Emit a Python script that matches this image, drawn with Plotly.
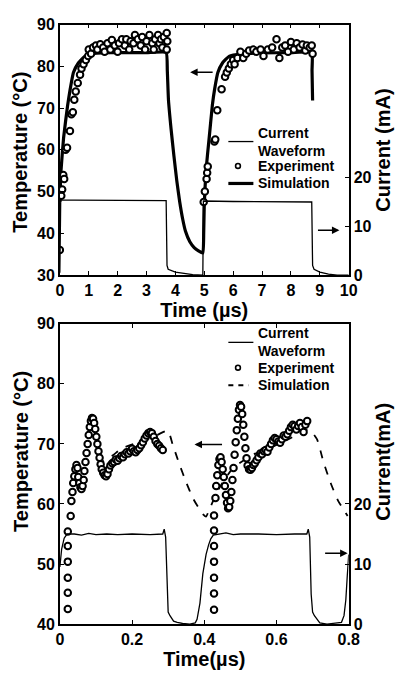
import plotly.graph_objects as go

W, H = 404, 675
FONT = "Liberation Sans"

# ---------------- top panel (0-10 us) ----------------
top_cur_t = [0.0, 0.03, 0.5, 2.0, 3.68, 3.71, 3.75, 4.0, 4.3, 4.6, 4.95, 4.97, 6.0, 8.0, 8.72, 8.75, 8.8, 9.0, 9.3, 9.6, 10.0]
top_cur_mA = [0.5, 15.4, 15.4, 15.3, 15.3, 2.0, 1.2, 0.6, 0.3, 0.1, 0.0, 15.2, 15.1, 15.0, 15.0, 2.0, 1.2, 0.6, 0.2, 0.0, 0.0]

top_sim_t = [0.0, 0.04, 0.13, 0.27, 0.36, 0.47, 0.64, 0.86, 1.19, 1.5, 2.0, 3.0, 3.68, 3.72, 3.76, 3.85, 3.95, 4.05, 4.15,
             4.25, 4.35, 4.5, 4.65, 4.8, 4.95, 4.98, 5.0, 5.06, 5.17, 5.28, 5.36, 5.47, 5.63, 5.86, 6.3, 7.0, 8.0, 8.72,
             8.73, 8.75]
top_sim_T = [47.5, 55.0, 62.9, 70.7, 74.6, 78.5, 80.8, 82.4, 83.1, 83.2, 83.3, 83.3, 83.3, 79.0, 72.0, 65.0, 58.5, 52.5, 47.5,
             43.5, 40.5, 38.0, 36.6, 35.8, 35.3, 40.0, 47.0, 55.0, 62.9, 70.7, 74.6, 78.5, 80.8, 82.4, 83.0, 83.2, 83.3, 83.3,
             79.0, 71.8]

top_exp_t = [0.0, 0.05, 0.08, 0.12, 0.15, 0.2, 0.25, 0.35, 0.4, 0.45, 0.5, 0.55, 0.62, 0.7, 0.75, 0.82, 0.9, 0.98, 1.0,
             1.08, 1.15, 1.25, 1.3, 1.4, 1.5, 1.55, 1.65, 1.75, 1.8, 1.9, 2.0, 2.05, 2.15, 2.25, 2.3, 2.4, 2.45, 2.55,
             2.6, 2.7, 2.8, 2.85, 2.95, 3.0, 3.1, 3.2, 3.25, 3.3, 3.4, 3.45, 3.5, 3.55, 3.6, 3.7, 3.72, 3.7,
             4.98, 5.02, 5.08, 5.1, 5.12, 5.35, 5.38, 5.45, 5.6, 5.72, 5.78, 5.85, 5.92, 6.0, 6.05, 6.15, 6.25, 6.35,
             6.45, 6.55, 6.7, 6.8, 6.95, 7.05, 7.2, 7.35, 7.5, 7.6, 7.7, 7.8, 7.9, 8.0, 8.1, 8.2, 8.3, 8.4, 8.5, 8.55,
             8.65, 8.72, 8.75]
top_exp_T = [36.0, 49.0, 50.5, 54.0, 53.0, 60.0, 60.5, 64.5, 68.5, 69.0, 72.0, 74.0, 76.0, 78.0, 79.5, 80.5, 81.5, 82.5, 84.0,
             83.0, 84.5, 85.0, 84.0, 85.3, 84.5, 83.5, 85.5, 84.0, 86.3, 85.0, 83.5, 85.5, 86.5, 85.0, 86.5, 84.0, 86.0, 85.5,
             87.5, 86.5, 85.0, 87.0, 84.0, 86.0, 87.5, 85.5, 84.0, 86.5, 87.5, 85.5, 86.5, 84.5, 87.0, 88.0, 86.0, 84.0,
             47.5, 50.0, 53.0, 54.5, 56.0, 62.0, 62.5, 69.5, 74.5, 77.5, 78.5, 79.5, 80.5, 81.5, 80.5, 82.0, 83.5, 82.0,
             83.0, 83.8, 84.0, 83.5, 84.0, 82.5, 84.0, 84.5, 86.5, 82.0, 84.5, 85.0, 83.5, 85.8, 84.0, 85.5, 84.5, 85.2, 83.8, 85.0,
             84.5, 85.0, 83.0]

# ---------------- bottom panel (0-0.8 us) ----------------
bot_cur_t = [0.0, 0.005, 0.012, 0.02, 0.04, 0.06, 0.08, 0.1, 0.13, 0.16, 0.2, 0.25, 0.285, 0.289, 0.293, 0.297, 0.3,
             0.305, 0.31, 0.315, 0.325, 0.34, 0.36, 0.375, 0.38, 0.388, 0.396, 0.405, 0.412, 0.418, 0.425, 0.44, 0.46,
             0.48, 0.5, 0.55, 0.6, 0.65, 0.684, 0.688, 0.692, 0.696, 0.7, 0.705, 0.71, 0.715, 0.72, 0.74, 0.76, 0.78,
             0.787, 0.792, 0.796, 0.8]
bot_cur_mA = [9.5, 12.5, 14.3, 15.0, 15.0, 14.8, 15.1, 14.9, 15.0, 14.9, 15.0, 14.9, 15.0, 15.8, 14.5, 5.0, 2.0,
              1.4, 1.0, 0.5, 0.3, 0.1, 0.0, 0.2, 0.8, 3.5, 8.4, 11.6, 13.2, 14.2, 14.8, 15.0, 15.2,
              14.9, 15.0, 15.0, 14.9, 15.0, 15.0, 15.8, 14.5, 5.0, 2.0, 1.4, 1.0, 0.5, 0.2, 0.0, 0.1, 0.3,
              1.4, 4.0, 8.0, 11.6]

bot_sim_t = [0.103, 0.147, 0.17, 0.214, 0.26, 0.299, 0.312, 0.33, 0.35, 0.37, 0.396, 0.405, 0.414, 0.44, 0.48, 0.538,
             0.58, 0.63, 0.69, 0.712, 0.73, 0.75, 0.77, 0.797]
bot_sim_T = [66.5, 68.1, 69.2, 70.2, 71.2, 72.2, 70.0, 66.8, 63.6, 60.8, 58.3, 57.9, 59.1, 62.5, 66.0, 68.3,
             69.3, 70.7, 72.4, 70.8, 67.0, 63.5, 60.6, 58.0]

bot_exp_t = [0.022, 0.022, 0.022, 0.022, 0.022, 0.022, 0.030, 0.032, 0.035, 0.037, 0.040, 0.043, 0.046, 0.049, 0.051,
             0.054, 0.057, 0.060, 0.063, 0.066, 0.068, 0.071, 0.074, 0.077, 0.080, 0.083, 0.086, 0.089, 0.092, 0.095,
             0.098, 0.101, 0.104, 0.107, 0.110, 0.113, 0.116, 0.120, 0.124, 0.128, 0.132, 0.136, 0.140, 0.145, 0.150,
             0.155, 0.160, 0.165, 0.170, 0.175, 0.180, 0.185, 0.190, 0.195, 0.200, 0.205, 0.210, 0.215, 0.220, 0.225,
             0.230, 0.235, 0.240, 0.245, 0.250, 0.255, 0.260, 0.265, 0.270, 0.275, 0.280, 0.285,
             0.427, 0.427, 0.427, 0.427, 0.427, 0.427, 0.427, 0.431, 0.433, 0.436, 0.439, 0.442, 0.445, 0.448, 0.451,
             0.454, 0.457, 0.460, 0.463, 0.466, 0.469, 0.472, 0.475, 0.478, 0.481, 0.484, 0.487, 0.490, 0.493, 0.496,
             0.499, 0.502, 0.505, 0.508, 0.511, 0.514, 0.517, 0.520, 0.524, 0.528, 0.532, 0.536, 0.540, 0.545, 0.550,
             0.555, 0.560, 0.565, 0.570, 0.575, 0.580, 0.585, 0.590, 0.595, 0.600, 0.605, 0.610, 0.615, 0.620, 0.625,
             0.630, 0.635, 0.640, 0.645, 0.650, 0.655, 0.660, 0.665, 0.670, 0.675, 0.680, 0.685]
bot_exp_T = [42.5, 45.2, 47.7, 50.4, 53.0, 55.4, 58.0, 60.5, 62.0, 63.5, 64.6, 65.8, 66.5, 66.0, 64.5,
             63.5, 62.8, 62.5, 63.0, 64.0, 65.5, 67.0, 68.5, 70.0, 71.5, 72.8, 73.8, 74.3, 74.2, 73.5,
             72.5, 71.2, 70.0, 68.8, 67.7, 66.6, 65.8, 65.2, 64.8, 64.6, 65.0, 65.8, 66.4, 66.8, 67.0,
             67.4, 67.2, 67.6, 68.0, 67.8, 68.3, 68.6, 68.4, 68.8, 69.2, 68.8, 68.6, 69.0, 69.3, 69.8,
             70.3, 70.9, 71.4, 71.8, 72.0, 71.8, 71.2, 70.5, 70.0, 69.7, 69.3, 69.0,
             42.4, 45.1, 47.7, 50.4, 53.0, 55.6, 58.1, 61.0, 63.0, 64.8, 66.5, 67.5, 67.8, 67.0, 65.8,
             64.5, 63.0, 61.5, 60.2, 59.3, 59.5, 60.5, 62.0, 64.0, 66.0, 68.2, 70.3, 72.3, 74.2, 75.7,
             76.5, 76.2, 75.0, 73.2, 71.2, 69.3, 67.6, 66.4, 65.8, 65.7, 66.0, 66.5, 66.8, 67.3, 67.8,
             68.4, 68.3, 68.8, 69.0, 68.7, 69.4, 70.0, 70.6, 71.0, 70.8, 70.4, 70.2, 70.8, 71.4, 71.2,
             71.6, 72.2, 72.8, 73.2, 73.0, 72.4, 73.0, 73.5, 72.8, 72.0, 73.2, 73.8]

top_xticks = [0, 1, 2, 3, 4, 5, 6, 7, 8, 9, 10]
bot_xticks = [0, 0.2, 0.4, 0.6, 0.8]
bot_xtext = ["0", "0.2", "0.4", "0.6", "0.8"]
temp_top_ticks = [30, 40, 50, 60, 70, 80, 90]
temp_bot_ticks = [40, 50, 60, 70, 80, 90]
cur_ticks = [0, 10, 20]
legend_labels = ["Current<br>Waveform", "Experiment", "Simulation"]


def px(x):
    return x / W


def py(y):
    return 1 - y / H


fig = go.Figure()

marker_style = dict(symbol="circle", size=6.5, color="white", line=dict(color="black", width=2))

# top panel traces
fig.add_trace(go.Scatter(x=top_cur_t, y=top_cur_mA, mode="lines", xaxis="x", yaxis="y2",
                         line=dict(color="black", width=1.3), showlegend=False))
fig.add_trace(go.Scatter(x=top_sim_t, y=top_sim_T, mode="lines", xaxis="x", yaxis="y",
                         line=dict(color="black", width=3.2, shape="spline", smoothing=0.4), showlegend=False))
fig.add_trace(go.Scatter(x=top_exp_t, y=top_exp_T, mode="markers", xaxis="x", yaxis="y",
                         marker=marker_style, showlegend=False))

# bottom panel traces
fig.add_trace(go.Scatter(x=bot_cur_t, y=bot_cur_mA, mode="lines", xaxis="x2", yaxis="y4",
                         line=dict(color="black", width=1.3), showlegend=False))
fig.add_trace(go.Scatter(x=bot_sim_t, y=bot_sim_T, mode="lines", xaxis="x2", yaxis="y3",
                         line=dict(color="black", width=1.8, dash="8px,9px", shape="spline", smoothing=0.5),
                         showlegend=False))
fig.add_trace(go.Scatter(x=bot_exp_t, y=bot_exp_T, mode="markers", xaxis="x2", yaxis="y3",
                         marker=marker_style, showlegend=False))

tickfont = dict(family=FONT, size=16, color="black", weight="bold")
titlefont = dict(family=FONT, size=20, color="black", weight="bold")
axcommon = dict(showgrid=False, zeroline=False, showline=True, linecolor="black", linewidth=1.5,
                ticks="inside", ticklen=4, tickwidth=1.2, tickcolor="black", tickfont=tickfont)

xdom = [px(58), px(358)]
fig.update_layout(
    width=W, height=H, margin=dict(l=0, r=0, t=0, b=0),
    paper_bgcolor="white", plot_bgcolor="white",
    showlegend=False,
    xaxis=dict(domain=xdom, range=[0, 10], anchor="y", tickvals=top_xticks, mirror="ticks",
               title=dict(text="Time (µs)", font=titlefont, standoff=4), **axcommon),
    yaxis=dict(domain=[py(274), py(17)], range=[30, 90], anchor="x", tickvals=temp_top_ticks, **axcommon),
    yaxis2=dict(overlaying="y", side="right", anchor="x", range=[0, 51.4], tickvals=cur_ticks, **axcommon),
    xaxis2=dict(domain=xdom, range=[0, 0.8], anchor="y3", tickvals=bot_xticks, ticktext=bot_xtext, mirror="ticks",
                title=dict(text="Time(µs)", font=titlefont, standoff=4), **axcommon),
    yaxis3=dict(domain=[py(632), py(324)], range=[40, 90], anchor="x2", tickvals=temp_bot_ticks, **axcommon),
    yaxis4=dict(overlaying="y3", side="right", anchor="x2", range=[0, 50], tickvals=cur_ticks, **axcommon),
)

ann = []
# y-axis titles
ann.append(dict(text="Temperature (°C)", x=px(17), y=py(148), xref="paper", yref="paper", textangle=-90,
                showarrow=False, font=titlefont, xanchor="center", yanchor="middle"))
ann.append(dict(text="Current (mA)", x=px(394), y=py(146), xref="paper", yref="paper", textangle=-90,
                showarrow=False, font=titlefont, xanchor="center", yanchor="middle"))
ann.append(dict(text="Temperature (°C)", x=px(17), y=py(455), xref="paper", yref="paper", textangle=-90,
                showarrow=False, font=titlefont, xanchor="center", yanchor="middle"))
ann.append(dict(text="Current(mA)", x=px(394), y=py(465), xref="paper", yref="paper", textangle=-90,
                showarrow=False, font=titlefont, xanchor="center", yanchor="middle"))

# arrows pointing to the relevant axis
arrow = dict(text="", showarrow=True, arrowhead=2, arrowsize=1, arrowwidth=1.5, arrowcolor="black", standoff=0, ay=0)
ann.append(dict(x=4.51, y=78.6, xref="x", yref="y", ax=24, **arrow))
ann.append(dict(x=9.68, y=9.2, xref="x", yref="y2", ax=-23, **arrow))
ann.append(dict(x=0.373, y=69.9, xref="x2", yref="y3", ax=29, **arrow))
ann.append(dict(x=0.797, y=11.8, xref="x2", yref="y4", ax=-24, **arrow))

# legend texts
legfont = dict(family=FONT, size=14, color="black", weight="bold")
for ys in [(137, 162, 180), (343, 369, 387)]:
    for lab, yy in zip(legend_labels, ys):
        ann.append(dict(text=lab, x=px(262), y=py(yy), xref="paper", yref="paper", showarrow=False,
                        font=legfont, xanchor="left", yanchor="middle", align="left"))
fig.update_layout(annotations=ann)

# legend keys
shapes = []
for (yl, ycirc, ysim, simstyle, xend) in [(137, 162, 180, dict(width=3.2), 259),
                                          (343, 369, 387, dict(width=1.8, dash="5px,5px"), 254)]:
    shapes.append(dict(type="line", xref="paper", yref="paper", x0=px(233), x1=px(259), y0=py(yl), y1=py(yl),
                       line=dict(color="black", width=1.3)))
    shapes.append(dict(type="circle", xref="paper", yref="paper", x0=px(240.5), x1=px(245.5),
                       y0=py(ycirc + 2.5), y1=py(ycirc - 2.5), line=dict(color="black", width=1.6)))
    shapes.append(dict(type="line", xref="paper", yref="paper", x0=px(233), x1=px(xend),
                       y0=py(ysim), y1=py(ysim), line=dict(color="black", **simstyle)))
fig.update_layout(shapes=shapes)

fig.write_html("out.html")
